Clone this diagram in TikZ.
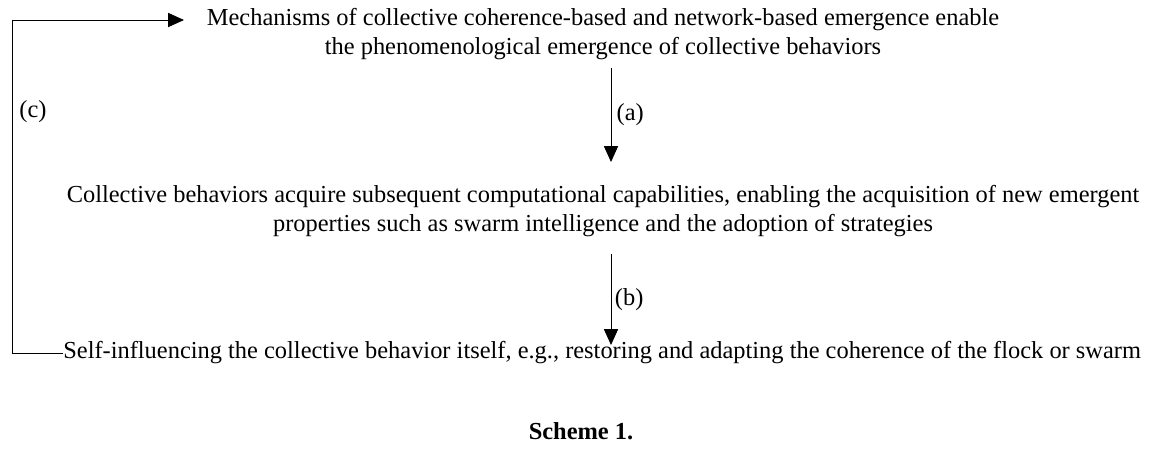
\documentclass[tikz,border=0pt]{standalone}
\usepackage{fontspec}
\setmainfont{Liberation Serif}
\usetikzlibrary{arrows.meta}
\begin{document}
\begin{tikzpicture}[x=0.02cm,y=-0.02cm,
    txt/.style={align=center,font=\fontsize{13.9}{16}\selectfont,inner sep=0pt},
    arr/.style={-{Triangle[length=9pt,width=8pt]},line width=0.5pt}]
\useasboundingbox (0,0) rectangle (1162,451);
\node[txt] (top) at (603,34) {Mechanisms of collective coherence-based and network-based emergence enable\\the phenomenological emergence of collective behaviors};
\node[txt] (mid) at (603,211) {Collective behaviors acquire subsequent computational capabilities, enabling the acquisition of new emergent\\properties such as swarm intelligence and the adoption of strategies};
\node[txt,anchor=west] (bot) at (63,353) {Self-influencing the collective behavior itself, e.g., restoring and adapting the coherence of the flock or swarm};
\coordinate (a1) at (611,68);
\coordinate (a2) at (611,162);
\coordinate (b1) at (611,254);
\coordinate (b2) at (611,345);
\draw[arr] (a1) -- node[right,txt,xshift=3pt] {(a)} (a2);
\draw[arr] (b1) -- node[right,txt,xshift=2pt] {(b)} (b2);
\coordinate (c1) at (12,353);
\coordinate (c2) at (12,20);
\coordinate (c3) at (184,20);
\draw[arr] (bot.west) -- (c1) -- (c2) -- (c3);
\node[txt] (clab) at (33,112) {(c)};
\node[txt,font=\fontsize{13.9}{16}\selectfont\bfseries] (cap) at (581,431) {Scheme 1.};
\end{tikzpicture}
\end{document}
